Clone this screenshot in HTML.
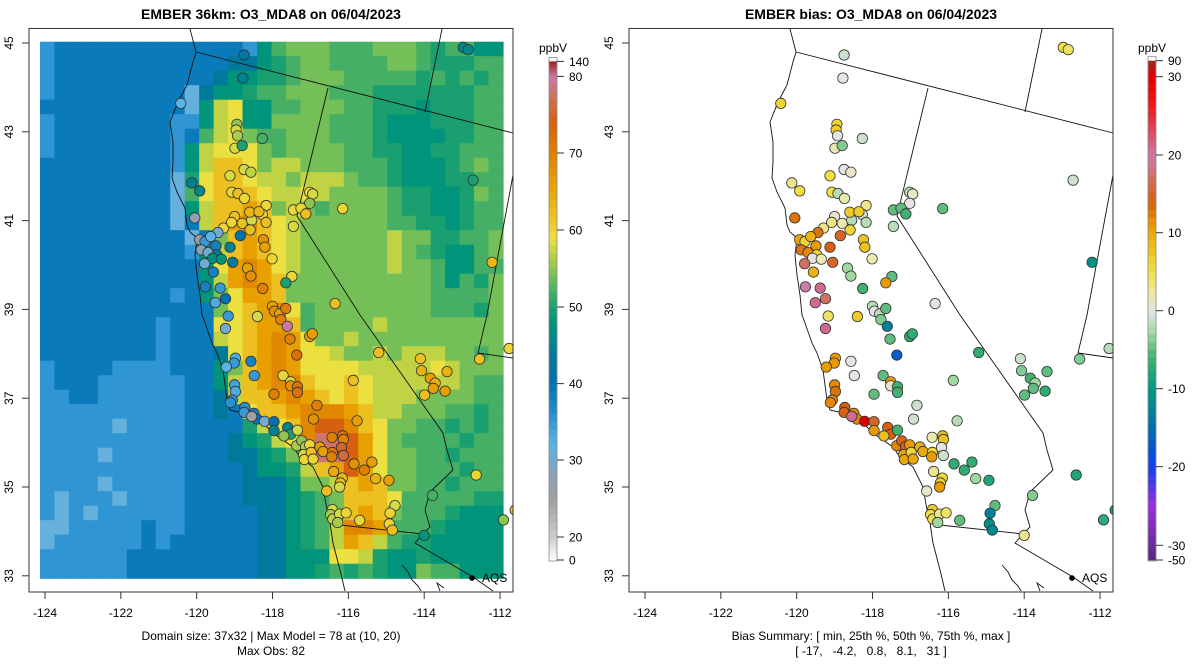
<!DOCTYPE html>
<html><head><meta charset="utf-8"><style>
html,body{margin:0;padding:0;background:#fff;}
svg{display:block;font-family:"Liberation Sans",sans-serif;}
</style></head><body>
<svg id="fig" width="1200" height="672" viewBox="0 0 1200 672" xmlns="http://www.w3.org/2000/svg">
<text x="271" y="19" text-anchor="middle" font-size="14" font-weight="bold">EMBER 36km: O3_MDA8 on 06/04/2023</text>
<text x="871" y="19" text-anchor="middle" font-size="14" font-weight="bold">EMBER bias: O3_MDA8 on 06/04/2023</text>
<g id="leftPanel"></g>
<g id="rightPanel"></g>
<g id="leftBar"></g>
<g id="rightBar"></g>
<text x="271" y="640" text-anchor="middle" font-size="12">Domain size: 37x32 | Max Model = 78 at (10, 20)</text>
<text x="271" y="655" text-anchor="middle" font-size="12">Max Obs: 82</text>
<text x="871" y="640" text-anchor="middle" font-size="12">Bias Summary: [ min, 25th %, 50th %, 75th %, max ]</text>
<text x="871" y="655" text-anchor="middle" font-size="12" xml:space="preserve">[ -17,   -4.2,   0.8,   8.1,   31 ]</text>
</svg>
<script>
// ---- data ----
const gridLevels = {a:31,b:35.5,c:39,d:44,e:48,f:50,g:52,h:54,i:57,j:59,k:62,l:66,m:69,n:74,o:78};
const gridRows = [
"bccccccc"+"ccccccbe"+"ghhhgggh"+"hhgfggee",
"bccccccc"+"cccccdde"+"fghhgggg"+"hhgfffgg",
"bccccccc"+"ccccdeef"+"fghhhggg"+"ggfgfgfg",
"bccccccc"+"ccadeefg"+"ghhhgggf"+"ffffffgg",
"cccccccc"+"ccaeijee"+"gghhhggf"+"ffefffgg",
"bccccccc"+"cbbeijee"+"hhhhgggf"+"eeefffgg",
"bccccccc"+"cbcgijhg"+"ghhhgggf"+"eeeeffgg",
"bccccccc"+"cbeijjjh"+"ghhhhggf"+"feeffggg",
"cccccccc"+"cbeikkjh"+"iihhhggg"+"feeefghg",
"cccccccc"+"cafjkkji"+"ihiiihgg"+"feeeffgg",
"cccccccc"+"cagjkkkj"+"iijihhhh"+"gffeefhg",
"cccccccc"+"caeikklk"+"hihghhhh"+"gffeefgg",
"cccccccc"+"caciklmk"+"jihhhhhh"+"ggffefgg",
"cccccccc"+"ccachklk"+"jihhhhhh"+"ihhffggh",
"cccccccc"+"ccbeiklk"+"jihhhhhh"+"ihgfeegh",
"cccccccc"+"cccejlml"+"jihhhhhh"+"ihhgeegg",
"cccccccc"+"ccceilml"+"khhhhhhh"+"hhhgegfh",
"cccccccc"+"cbcehjll"+"khhhhhhh"+"hhhggggh",
"cccccccc"+"cccchjkl"+"mjghhhhh"+"hhhgggfh",
"cccccccc"+"bcccjjkl"+"lkghhhhi"+"hhhhhhhh",
"cccccccc"+"bcccijkl"+"mljhhihh"+"hhhhhhhh",
"cccccccc"+"bcccdjkl"+"mljjihhi"+"hiiihhgh",
"bccccbbb"+"bcccehkl"+"mljjjjii"+"iiijihhh",
"bcccbbbb"+"bbcceikl"+"mmkjjkji"+"iiiiihgg",
"bbccbbbb"+"bbccdikk"+"lmlkjkji"+"iihhhhgg",
"bbbbbbbb"+"bbccdcjk"+"klmmmlki"+"ihhhggfg",
"bbbbbabb"+"bbccccfi"+"jkmnnmkj"+"hhggfgfg",
"bbbbbbbb"+"bbcccdef"+"ijmoonlj"+"hggggfgg",
"bbbbabbb"+"bbcccdde"+"fhloonlj"+"hhggfggg",
"bbbbbbbb"+"bbccccde"+"efiklnlj"+"hhgggfgg",
"bbbbabbb"+"bbccccdd"+"dehhiklk"+"hhggfggg",
"babbbabb"+"bbccccdd"+"defghkkk"+"jgggggff",
"bababbbb"+"bbcccccd"+"defghklk"+"hgggfeee",
"aabbbbbc"+"bbcccccd"+"defgimml"+"gggfeeee",
"abbbbbbc"+"bccccccd"+"defgilki"+"gffeeeee",
"bbbbbbcc"+"cccccccd"+"deeejjif"+"eefeeeee",
"bbbbbbcc"+"cccccccd"+"deefgfgf"+"eehggeee"
];
const siteLon = [-118.75,-118.78,-120.42,-112.97,-112.84,-118.94,-118.96,-118.92,-118.27,-118.99,-118.8,-118.75,-118.57,-119.12,-120.13,-119.92,-119.07,-118.91,-118.74,-118.17,-117.02,-116.94,-117.02,-117.45,-117.25,-117.12,-117.45,-116.15,-112.71,-112.21,-116.35,-120.05,-119.0,-119.29,-119.08,-118.8,-118.55,-118.27,-118.17,-118.6,-118.36,-118.59,-119.44,-118.85,-119.92,-119.78,-119.63,-119.49,-119.88,-119.7,-119.47,-119.58,-119.35,-119.12,-119.05,-119.79,-119.56,-118.24,-118.2,-118.01,-118.66,-118.57,-117.49,-117.65,-118.26,-119.77,-119.38,-119.24,-119.51,-119.17,-119.24,-118.4,-118.0,-117.95,-117.81,-117.78,-117.65,-117.61,-117.54,-117.02,-116.95,
-117.36,-115.2,-114.1,-114.07,-113.84,-113.71,-113.76,-113.4,-113.99,-113.45,-112.54,-111.76,-118.57,-118.48,-117.72,-117.52,-117.52,-117.34,-117.34,-117.96,-116.83,-116.92,-115.77,-115.87,-118.98,-119.01,-119.22,-119.0,-118.98,-119.06,-119.11,-118.73,-118.75,-118.49,-118.41,-118.55,-118.21,-117.96,-117.96,-117.6,-117.52,-117.7,-117.34,-117.36,-117.23,-117.13,-117.02,-117.18,-117.16,-116.98,-116.93,-116.75,-116.67,-116.43,-116.42,-116.44,-116.15,-116.13,-116.18,-116.13,-116.39,-116.16,-116.21,-116.23,-116.57,-115.85,-115.58,-115.38,-115.28,-114.93,-114.77,-114.9,-114.92,-114.84,-115.7,-114.0,-113.78,-112.63,-111.91,-111.6,-116.42,-116.47,-116.41,-116.23,-116.06,-116.28];
const siteLat = [44.73,44.21,43.64,44.9,44.85,43.17,43.04,42.91,42.85,42.63,42.69,42.15,42.09,42.01,41.85,41.67,41.64,41.61,41.5,41.34,41.64,41.6,41.39,41.24,41.28,41.15,40.87,41.27,41.91,40.06,39.13,41.06,41.09,40.83,40.96,40.94,41.01,41.14,40.96,41.19,41.2,40.79,40.73,40.66,40.57,40.53,40.64,40.43,40.34,40.28,40.23,40.15,40.13,40.4,40.06,40.03,39.84,40.57,40.4,40.14,39.93,39.75,39.74,39.6,39.47,39.51,39.48,39.24,39.15,38.85,38.57,38.84,39.07,38.96,38.9,38.77,39.02,38.62,38.33,38.39,38.45,
37.97,38.03,37.89,37.62,37.45,37.34,37.22,37.6,37.07,37.16,37.88,38.12,37.83,37.51,37.51,37.37,37.28,37.26,37.13,37.09,36.84,36.53,36.49,37.4,37.9,37.79,37.7,37.3,37.15,36.96,36.9,36.79,36.68,36.66,36.53,36.59,36.48,36.47,36.27,36.34,36.19,36.15,36.28,35.93,36.04,35.91,35.95,35.73,35.62,35.78,35.63,35.9,35.8,36.12,35.78,35.68,36.15,36.07,35.89,35.71,35.35,35.2,35.09,35.0,34.91,35.52,35.38,35.56,35.19,35.15,34.58,34.41,34.17,34.03,34.25,33.91,34.81,35.27,34.26,34.48,34.49,34.38,34.28,34.39,34.42,34.2];
const siteObs = [42,45,32,46,46,55,58,56,52,58,50,58,57,58,45,46,60,62,60,60,60,58,55,60,60,62,58,60,50,63,62,27,62,60,60,62,58,60,62,63,63,62,30,40,27,35,32,38,28,30,45,47,48,45,44,30,38,68,66,60,66,68,60,50,70,38,35,40,33,35,30,58,66,68,66,70,70,82,70,66,66,
72,62,62,64,66,64,66,64,62,66,62,60,38,35,60,58,68,72,72,70,70,68,66,62,33,35,32,34,33,35,36,36,35,38,40,25,30,40,45,45,50,55,58,56,55,56,60,58,60,62,60,66,66,70,72,70,72,70,75,76,65,63,62,58,62,68,70,66,64,66,58,60,60,62,60,48,52,60,55,62,58,56,57,58,60,56];
const siteBias = [-1,0,6,5,4,6,7,0,-1,2,-4,0,1,5,3,5,5,-2,2,3,-2,1,0,-5,-5,-6,-2,-5,-1,-11,0,13,1,3,3,2,-2,-1,-2,7,7,6,13,15,10,6,9,11,13,12,6,0,2,14,15,17,9,8,8,2,-3,-3,-5,11,-6,20,21,17,21,4,21,7,-2,0,-2,-4,-5,-13,-5,-7,-7,
-17,-7,-1,-4,-6,-3,-5,-5,-5,-7,-4,-2,0,0,-5,11,1,-6,-6,-5,-1,-1,-2,-3,11,11,11,12,13,12,12,14,14,12,12,21,31,15,11,14,14,8,-6,12,14,14,11,10,10,6,10,9,10,2,6,11,8,8,0,-1,3,6,6,11,1,-7,-7,-7,-3,-8,-5,-13,-11,-12,-5,3,-4,-8,-7,-9,7,5,5,3,4,-3];
const obsTicks = [0,20,30,40,50,60,70,80,140];
const biasTicks = [-50,-30,-20,-10,0,10,20,30,90];

// ---- geometry ----
const NS="http://www.w3.org/2000/svg";
const lonX = lon => 45 + (lon + 124) * 37.92;
const latY = lat => 43 + (45 - lat) * 44.4;
const FRAME = {x:29, y:28.5, w:484, h:563.5};
const OFF = 600;
function mk(tag, attrs, parent){const e=document.createElementNS(NS,tag);for(const k in attrs)e.setAttribute(k,attrs[k]);parent.appendChild(e);return e;}
function hex2rgb(h){return [parseInt(h.slice(1,3),16),parseInt(h.slice(3,5),16),parseInt(h.slice(5,7),16)];}
function ramp(stops){return v=>{if(v<=stops[0][0])return stops[0][1];for(let i=1;i<stops.length;i++){if(v<=stops[i][0]){const [v0,c0]=stops[i-1],[v1,c1]=stops[i];const t=(v-v0)/(v1-v0);const a=hex2rgb(c0),b=hex2rgb(c1);return `rgb(${a.map((x,j)=>Math.round(x+(b[j]-x)*t)).join(',')})`;}}return stops[stops.length-1][1];};}
function interp(stops){return v=>{if(v<=stops[0][0])return stops[0][1];for(let i=1;i<stops.length;i++){if(v<=stops[i][0]){const [v0,y0]=stops[i-1],[v1,y1]=stops[i];return y0+(y1-y0)*(v-v0)/(v1-v0);}}return stops[stops.length-1][1];};}
const obsColor = ramp([[0,'#ffffff'],[20,'#cccccc'],[25,'#a0a0a0'],[28,'#8ca2b6'],[32,'#58b4e8'],[36,'#2a90d0'],[40,'#0072b2'],[44,'#007a9a'],[48,'#00957a'],[50,'#1aa070'],[53,'#5ab860'],[56,'#a8cc48'],[59,'#ece040'],[62,'#ecc020'],[66,'#e8a000'],[70,'#e08000'],[74,'#d66010'],[77,'#d07050'],[80,'#cc79a7'],[140,'#a02020']]);
const biasColor = ramp([[-50,'#5a2a7a'],[-30,'#6a2a9a'],[-25,'#9a30e0'],[-20,'#1040f0'],[-15,'#0070a8'],[-10,'#009a80'],[-6,'#40b070'],[-3,'#a0d8a0'],[0,'#e4e4e4'],[2,'#ece8b0'],[5,'#f0e040'],[8,'#ecc020'],[11,'#e89a00'],[14,'#d86010'],[17,'#d07060'],[20,'#c87aa8'],[23,'#e04860'],[27,'#f01010'],[30,'#e00000'],[90,'#a02828']]);
const obsBarY = interp([[0,560],[20,537],[30,460],[40,383.6],[50,307],[60,230],[70,153],[80,76.4],[140,61.4]]);
const biasBarY = interp([[-50,560],[-30,545.3],[-20,466.7],[-10,388.7],[0,310.7],[10,232.7],[20,155],[30,76.7],[90,60.7]]);

const lines = [
 [[190,29],[196,52],[193,62],[187,85],[178,102],[170,122],[173,142],[173,162],[172,178],[177,192],[185,208],[187,225],[190,232],[197,238],[195,255],[197,275],[200,295],[202,315],[205,323],[212,343],[217,353],[223,370],[227,400],[230,410],[243,413],[263,423],[273,433],[293,447],[300,457],[313,467],[323,487],[327,510],[330,523],[333,543],[340,570],[345,591]],
 [[196,52],[513,133]],
 [[442,29],[425,112]],
 [[328,88],[297,216],[360,315],[443,433],[447,450],[453,470],[430,492],[425,510],[430,527],[423,534],[340,525]],
 [[423,534],[415,543],[473,577],[493,591]],
 [[513,175],[487,315],[478,353],[513,358]],
 [[402,565],[408,572],[412,580],[418,586],[421,591]],
 [[440,591],[437,583],[444,588]]
];

function drawPanel(g, off, isBias){
  if(!isBias){
    const x0=40,y0=41.7,cw=463/32,ch=536.5/37;
    gridRows.forEach((row,r)=>{for(let c=0;c<row.length;c++){
      const v=gridLevels[row[c]];
      const rc=mk('rect',{x:(x0+c*cw).toFixed(2),y:(y0+r*ch).toFixed(2),width:(cw+0.6).toFixed(2),height:(ch+0.6).toFixed(2),fill:obsColor(v)},g);
      
      
    }});
  }
  lines.forEach(pts=>{
    const p=mk('polyline',{points:pts.map(q=>(q[0]+off)+','+q[1]).join(' '),fill:'none',stroke:'#111','stroke-width':0.9},g);
    
    
  });
  const aqsDot=mk('circle',{cx:472+off,cy:578,r:2.8,fill:'#000'},g);
  
  
  const aqsT=mk('text',{x:482+off,y:582,'font-size':12},g); aqsT.textContent='AQS';
  
  
  for(let i=0;i<siteLon.length;i++){
    const v=isBias?siteBias[i]:siteObs[i];
    const c=mk('circle',{cx:(lonX(siteLon[i])+off).toFixed(1),cy:latY(siteLat[i]).toFixed(1),r:5.2,fill:isBias?biasColor(v):obsColor(v),stroke:'#333','stroke-width':0.8},g);
    
    
  }
  mk('rect',{x:FRAME.x+FRAME.w+off+0.5,y:0,width:30,height:600,fill:'#fff'},g);
  const fr=mk('rect',{x:FRAME.x+off,y:FRAME.y,width:FRAME.w,height:FRAME.h,fill:'none',stroke:'#333','stroke-width':1},g);
  
  
  for(let lon=-124;lon<=-112;lon+=2){
    const x=lonX(lon)+off;
    mk('line',{x1:x,y1:592,x2:x,y2:599,stroke:'#333'},g);
    const t=mk('text',{x:x,y:617,'text-anchor':'middle','font-size':12},g); t.textContent=lon;
    
    
  }
  for(let lat=33;lat<=45;lat+=2){
    const y=latY(lat);
    mk('line',{x1:22+off,y1:y,x2:29+off,y2:y,stroke:'#333'},g);
    const t=mk('text',{x:0,y:0,'text-anchor':'middle','font-size':12,transform:`translate(${13+off},${y}) rotate(-90)`},g); t.textContent=lat;
    
    
  }
}
drawPanel(document.getElementById('leftPanel'),0,false);
drawPanel(document.getElementById('rightPanel'),OFF,true);

function drawBar(g,x,ticks,yf,cf,minV,maxV){
  const steps=140;
  for(let i=0;i<steps;i++){
    const v0=minV+(maxV-minV)*i/steps, v1=minV+(maxV-minV)*(i+1)/steps;
    const ya=yf(v1), yb=yf(v0);
    const r=mk('rect',{x:x,y:ya.toFixed(2),width:8,height:Math.max(0.3,yb-ya+0.4).toFixed(2),fill:cf((v0+v1)/2)},g);
    
    
  }
  mk('rect',{x:x,y:yf(maxV)-4,width:8,height:yf(minV)-yf(maxV)+5,fill:'none',stroke:'#888','stroke-width':0.8},g);
  ticks.forEach(tv=>{const y=yf(tv);
    mk('line',{x1:x+8,y1:y,x2:x+15,y2:y,stroke:'#333'},g);
    const t=mk('text',{x:x+20,y:y+4.5,'font-size':12},g); t.textContent=tv;
    
    
  });
  const u=mk('text',{x:x+4,y:52,'text-anchor':'middle','font-size':12},g); u.textContent='ppbV';
  
  
}
drawBar(document.getElementById('leftBar'),549,obsTicks,obsBarY,obsColor,0,140);
drawBar(document.getElementById('rightBar'),1148,biasTicks,biasBarY,biasColor,-50,90);
</script>
</body></html>
